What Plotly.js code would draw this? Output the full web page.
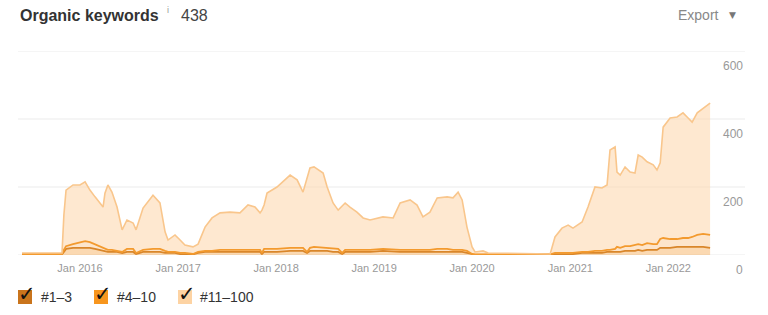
<!DOCTYPE html>
<html>
<head>
<meta charset="utf-8">
<script src="https://cdn.plot.ly/plotly-3.0.1.min.js"></script>
<style>
  html, body { margin: 0; padding: 0; background: #fff; }
  #chart { width: 768px; height: 315px; }
</style>
</head>
<body>
<div id="chart"></div>
<script>
// ---- Data ----
const dates = [
  "2015-05-30","2015-10-26","2015-11-02","2015-11-10","2015-12-06","2016-01-01","2016-01-20","2016-02-07",
  "2016-02-26","2016-03-16","2016-03-27","2016-04-03","2016-04-14","2016-04-29","2016-05-18","2016-06-06",
  "2016-06-24","2016-07-17","2016-07-28","2016-08-23","2016-09-29","2016-10-25","2016-11-13","2016-11-24",
  "2016-12-20","2017-01-08","2017-01-26","2017-02-25","2017-03-16","2017-04-11","2017-05-07","2017-06-06",
  "2017-07-13","2017-08-19","2017-09-18","2017-10-14","2017-11-02","2017-11-09","2017-11-17","2017-11-28",
  "2018-01-04","2018-02-22","2018-03-20","2018-04-11","2018-04-26","2018-05-07","2018-05-22","2018-06-25",
  "2018-07-10","2018-08-01","2018-08-20","2018-09-04","2018-09-15","2018-10-03","2018-10-29","2018-11-21",
  "2018-12-17","2019-02-03","2019-03-13","2019-04-08","2019-05-15","2019-06-10","2019-07-02","2019-07-28",
  "2019-08-24","2019-09-30","2019-10-22","2019-11-10","2019-11-25","2019-12-13","2020-01-01","2020-01-12",
  "2020-02-11","2020-03-01","2020-10-18","2020-11-05","2020-12-01","2020-12-24","2021-01-11","2021-02-14",
  "2021-03-08","2021-04-03","2021-04-29","2021-05-18","2021-05-29","2021-06-17","2021-06-24","2021-07-06",
  "2021-07-24","2021-08-12","2021-08-30","2021-09-11","2021-09-26","2021-10-14","2021-11-06","2021-11-20",
  "2021-12-02","2021-12-13","2022-01-08","2022-02-03","2022-02-25","2022-03-16","2022-03-31","2022-04-19",
  "2022-05-11","2022-06-06"
];
const pos1to3 = [
  2,2,9,18,21,21,21,21, 18,15,12,12,9,9,9,6, 9,9,3,9,9,9,6,6,
  6,3,3,2,6,9,9,9, 9,9,9,9,9,3,9,9, 9,12,12,12,6,12,12,12,
  12,9,9,3,9,9,9,9, 9,12,9,9,9,9,9,9, 9,9,9,9,9,6,2,1,
  1,1,1,3,3,3,3,6, 6,6,6,9,9,9,9,9, 12,12,12,15,12,15,15,15,
  21,21,21,24,24,24,24,24, 24,21
];
const pos4to10 = [
  1,1,6,8,11,17,20,17, 14,11,9,6,6,6,3,3, 9,9,3,6,9,9,6,3,
  3,3,3,1,3,3,3,6, 6,6,6,6,6,3,9,9, 9,9,9,9,3,9,12,9,
  9,9,9,3,6,6,6,6, 6,6,6,6,6,6,6,6, 9,9,6,6,6,6,1,1,
  1,1,1,3,3,3,3,3, 3,6,6,6,6,9,15,12, 14,14,17,17,17,20,17,17,
  26,29,26,23,26,26,29,35, 38,38
];
const pos11to100 = [
  3,3,103,165,174,168,174,153, 139,127,120,164,191,170,129,65, 85,76,68,123,158,135,56,35,
  50,38,23,21,23,70,97,109, 111,109,132,126,109,126,129,164, 182,214,200,164,217,235,235,220,
  179,135,114,138,138,126,111,94, 88,94,94,138,147,132,97,111, 150,153,153,170,147,70,21,7,
  10,4,1,47,73,82,73,88, 132,188,185,191,294,300,220,214, 233,218,212,262,259,239,233,218,
  224,326,356,359,368,353,338,359, 370,388
];
const seriesNames = ["#1–3", "#4–10", "#11–100"];
const yTicks = [0, 200, 400, 600];
const totalKeywords = "438";

// ---- Styling ----
const FONT = "Liberation Sans, Arial, Helvetica, sans-serif";
const lineColors = ["#d9862a", "#f39a2e", "#f9c68c"];
const fillColors = ["rgba(247,170,85,0.45)", "rgba(250,180,105,0.35)", "rgba(253,214,170,0.55)"];
const boxColors = ["#c9741c", "#f7961e", "#fdd3a3"];

const traces = [pos1to3, pos4to10, pos11to100].map((vals, i) => ({
  type: "scatter",
  mode: "lines",
  x: dates,
  y: vals,
  name: seriesNames[i],
  stackgroup: "kw",
  line: { color: lineColors[i], width: i === 2 ? 1.6 : 1.8, shape: "linear" },
  fillcolor: fillColors[i],
  hoverinfo: "skip"
}));

// plot area geometry (pixels)
const W = 768, H = 315;
const M = { l: 18, r: 23, t: 51, b: 60 };
const pw = W - M.l - M.r, ph = H - M.t - M.b;
const px = x => (x - M.l) / pw;
const py = y => (H - M.b - y) / ph;

const shapes = [];
const annotations = [
  { text: "<b>Organic keywords</b>", x: px(18), y: py(16), xref: "paper", yref: "paper",
    xanchor: "left", yanchor: "middle", showarrow: false, font: { family: FONT, size: 16, color: "#333" } },
  { text: "i", x: px(165), y: py(10), xref: "paper", yref: "paper",
    xanchor: "left", yanchor: "middle", showarrow: false, font: { family: FONT, size: 9, color: "#999" } },
  { text: totalKeywords, x: px(179), y: py(16), xref: "paper", yref: "paper",
    xanchor: "left", yanchor: "middle", showarrow: false, font: { family: FONT, size: 16, color: "#444" } },
  { text: "Export", x: px(721), y: py(15), xref: "paper", yref: "paper",
    xanchor: "right", yanchor: "middle", showarrow: false, font: { family: FONT, size: 14, color: "#888" } },
  { text: "▼", x: px(732), y: py(15), xref: "paper", yref: "paper",
    xanchor: "center", yanchor: "middle", showarrow: false, font: { family: "DejaVu Sans", size: 9, color: "#777" } }
];

// gridlines and y labels
yTicks.forEach(v => {
  shapes.push({ type: "line", xref: "paper", yref: "y", x0: 0, x1: 1, y0: v, y1: v,
    line: { color: "#ebebeb", width: 1 }, layer: "below" });
  annotations.push({ text: String(v), x: 1, y: v, xref: "paper", yref: "y",
    xanchor: "right", yanchor: "top", yshift: -6, showarrow: false,
    font: { family: FONT, size: 12, color: "#999" } });
});

const legendBoxX = [18, 94, 178];
const legendTextX = [39, 115, 198];
seriesNames.forEach((n, i) => {
  shapes.push({ type: "rect", xref: "paper", yref: "paper",
    x0: px(legendBoxX[i]), x1: px(legendBoxX[i] + 14), y0: py(290), y1: py(304),
    fillcolor: boxColors[i], line: { width: 0 } });
  annotations.push({ text: "✓", x: px(legendBoxX[i] + 9), y: py(294), xref: "paper", yref: "paper",
    xanchor: "center", yanchor: "middle", showarrow: false,
    font: { family: "DejaVu Sans", size: 21, color: "#111", weight: "bold" } });
  annotations.push({ text: n, x: px(legendTextX[i]), y: py(297), xref: "paper", yref: "paper",
    xanchor: "left", yanchor: "middle", showarrow: false,
    font: { family: FONT, size: 14, color: "#333" } });
});

const layout = {
  width: W, height: H,
  margin: M,
  paper_bgcolor: "#fff", plot_bgcolor: "#fff",
  showlegend: false,
  font: { family: FONT, color: "#999" },
  xaxis: {
    type: "date",
    range: ["2015-05-15", "2022-10-14"],
    tick0: "2016-01-01", dtick: "M12", tickformat: "%b %Y",
    showgrid: false, zeroline: false, showline: false, ticks: "",
    ticklabelstandoff: 5,
    tickfont: { family: FONT, size: 11, color: "#999" },
    fixedrange: true
  },
  yaxis: {
    range: [0, 600],
    showticklabels: false,
    showgrid: false,
    zeroline: false, showline: false, ticks: "",
    fixedrange: true
  },
  shapes: shapes,
  annotations: annotations
};

Plotly.newPlot("chart", traces, layout, { displayModeBar: false, staticPlot: true });
</script>
</body>
</html>
